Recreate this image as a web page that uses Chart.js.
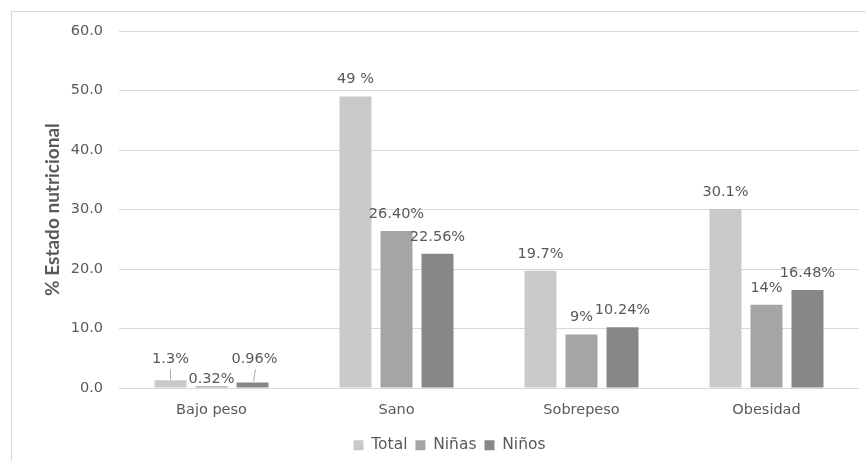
<!DOCTYPE html>
<html>
<head>
<meta charset="utf-8">
<script src="https://cdn.jsdelivr.net/npm/chart.js@4/dist/chart.umd.min.js"></script>
<style>
  html, body { margin: 0; padding: 0; background: #fff; }
  #frame { position: absolute; left: 11px; top: 11px; width: 870px; height: 470px; border: 1px solid #d9d9d9; }
  #wrap { position: absolute; left: 0; top: 0; width: 866px; height: 461px; }
</style>
</head>
<body>
<div id="frame"></div>
<div id="wrap"><canvas id="myChart"></canvas></div>
<script>
const categories = ["Bajo peso", "Sano", "Sobrepeso", "Obesidad"];
const seriesNames = ["Total", "Niñas", "Niños"];
const totalValues = [1.3, 49, 19.7, 30.1];
const ninasValues = [0.32, 26.40, 9, 14];
const ninosValues = [0.96, 22.56, 10.24, 16.48];
const totalLabels = ["1.3%", "49 %", "19.7%", "30.1%"];
const ninasLabels = ["0.32%", "26.40%", "9%", "14%"];
const ninosLabels = ["0.96%", "22.56%", "10.24%", "16.48%"];
const yTicks = [0, 10, 20, 30, 40, 50, 60];

const colors = ["#c9c9c9", "#a5a5a5", "#878787"];
const textColor = "#595959";
const fontFamily = "'DejaVu Sans', sans-serif";
const fontSize = 14.5;

// label nudges for the small "Bajo peso" bars (dx, dy from the default spot, leader line or not)
const labelNudges = {
  "0-0": { dx: 0, dy: -4, leader: true },
  "1-0": { dx: 0, dy: 10, leader: false },
  "2-0": { dx: 2, dy: -6, leader: true }
};

const valueLabels = {
  id: "valueLabels",
  afterDatasetsDraw(chart) {
    const ctx = chart.ctx;
    const allLabels = [totalLabels, ninasLabels, ninosLabels];
    ctx.save();
    ctx.font = fontSize + "px " + fontFamily;
    ctx.fillStyle = textColor;
    ctx.textAlign = "center";
    ctx.textBaseline = "middle";
    chart.data.datasets.forEach((ds, i) => {
      const meta = chart.getDatasetMeta(i);
      meta.data.forEach((bar, j) => {
        const nudge = labelNudges[i + "-" + j] || { dx: 0, dy: 0 };
        const x = bar.x + nudge.dx;
        const y = bar.y - 17 + nudge.dy;
        ctx.fillText(allLabels[i][j], x, y);
        if (nudge.leader) {
          ctx.strokeStyle = "#a6a6a6";
          ctx.lineWidth = 1;
          ctx.beginPath();
          ctx.moveTo(Math.round(bar.x) + 0.5, bar.y - 1);
          ctx.lineTo(Math.round(x) + 0.5, y + 10);
          ctx.stroke();
        }
      });
    });
    ctx.restore();
  }
};

// nudge the legend a bit right and down from its default centred spot
const legendShift = {
  id: "legendShift",
  afterLayout(chart) {
    const lg = chart.legend;
    if (!lg) return;
    lg.left += 14;
    lg.right += 14;
    lg.top += 2;
    lg.bottom += 2;
  }
};

const config = {
  type: "bar",
  data: {
    labels: categories,
    datasets: [
      { label: seriesNames[0], data: totalValues, backgroundColor: colors[0] },
      { label: seriesNames[1], data: ninasValues, backgroundColor: colors[1] },
      { label: seriesNames[2], data: ninosValues, backgroundColor: colors[2] }
    ]
  },
  options: {
    responsive: true,
    maintainAspectRatio: false,
    animation: false,
    datasets: { bar: { categoryPercentage: 0.665, barPercentage: 0.78 } },
    layout: { padding: { left: 12, right: 7, top: 31, bottom: 0 } },
    scales: {
      x: {
        grid: { display: false },
        border: { display: false },
        afterFit: (scale) => { scale.height += 4; },
        ticks: { color: textColor, font: { family: fontFamily, size: fontSize }, padding: 5 }
      },
      y: {
        min: 0,
        max: 60,
        afterBuildTicks: (scale) => { scale.ticks = yTicks.map((v) => ({ value: v })); },
        afterFit: (scale) => { scale.width = 107; },
        grid: { color: "#d9d9d9", drawTicks: false },
        border: { display: false },
        ticks: {
          color: textColor,
          font: { family: fontFamily, size: fontSize },
          padding: 16,
          callback: (v) => Number(v).toFixed(1)
        },
        title: {
          display: true,
          text: "% Estado nutricional",
          color: textColor,
          font: { family: "Lato, sans-serif", size: 19, weight: "bold" },
          padding: { top: 29, bottom: 0 }
        }
      }
    },
    plugins: {
      legend: {
        position: "bottom",
        labels: {
          color: textColor,
          font: { family: fontFamily, size: 15.5 },
          boxWidth: 10,
          boxHeight: 10,
          padding: 8
        }
      },
      tooltip: { enabled: false }
    }
  },
  plugins: [valueLabels, legendShift]
};

new Chart(document.getElementById("myChart"), config);
</script>
</body>
</html>
